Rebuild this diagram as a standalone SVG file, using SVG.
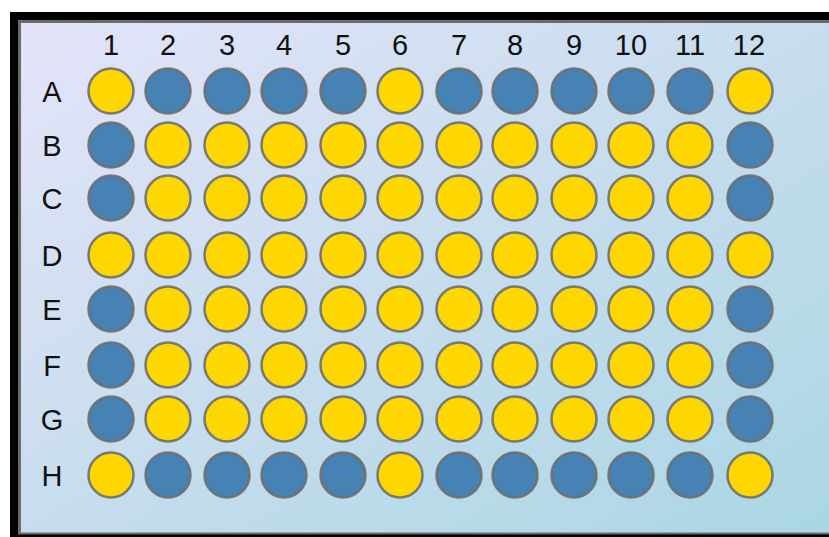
<svg xmlns="http://www.w3.org/2000/svg" width="829" height="537" viewBox="0 0 829 537">
<defs>
<linearGradient id="bg" x1="0" y1="0" x2="1" y2="1">
<stop offset="0" stop-color="#e4e4f8"/>
<stop offset="1" stop-color="#aad6e4"/>
</linearGradient>
<style>
.w{stroke:#6e6e6e;stroke-width:2.5;stroke-opacity:0.9}
.y{fill:#ffd700}
.b{fill:#4682b4}
.c{font-family:"Liberation Sans",Arial,sans-serif;font-size:29px;fill:#111;text-anchor:middle}
</style>
</defs>
<rect x="10" y="12" width="830" height="530" fill="#000"/>
<rect x="18" y="20" width="820" height="514.5" fill="#6b6b6b"/>
<rect x="21" y="23" width="810" height="509.5" fill="url(#bg)"/>
<g id="col-labels" class="c">
<text x="111" y="55">1</text>
<text x="168" y="55">2</text>
<text x="227" y="55">3</text>
<text x="284" y="55">4</text>
<text x="343" y="55">5</text>
<text x="400" y="55">6</text>
<text x="459" y="55">7</text>
<text x="515" y="55">8</text>
<text x="574" y="55">9</text>
<text x="631" y="55">10</text>
<text x="690" y="55">11</text>
<text x="749" y="55">12</text>
</g>
<g id="row-labels" class="c">
<text x="52" y="102">A</text>
<text x="52" y="156">B</text>
<text x="52" y="209">C</text>
<text x="52" y="266">D</text>
<text x="52" y="320">E</text>
<text x="52" y="376">F</text>
<text x="52" y="430">G</text>
<text x="52" y="486">H</text>
</g>
<g id="row-A" class="w">
<circle class="y" cx="111" cy="91" r="22.5"/><circle class="b" cx="168" cy="91" r="22.5"/><circle class="b" cx="227" cy="91" r="22.5"/><circle class="b" cx="284" cy="91" r="22.5"/><circle class="b" cx="343" cy="91" r="22.5"/><circle class="y" cx="400" cy="91" r="22.5"/><circle class="b" cx="459" cy="91" r="22.5"/><circle class="b" cx="515" cy="91" r="22.5"/><circle class="b" cx="574" cy="91" r="22.5"/><circle class="b" cx="631" cy="91" r="22.5"/><circle class="b" cx="690" cy="91" r="22.5"/><circle class="y" cx="750" cy="91" r="22.5"/>
</g>
<g id="row-B" class="w">
<circle class="b" cx="111" cy="145" r="22.5"/><circle class="y" cx="168" cy="145" r="22.5"/><circle class="y" cx="227" cy="145" r="22.5"/><circle class="y" cx="284" cy="145" r="22.5"/><circle class="y" cx="343" cy="145" r="22.5"/><circle class="y" cx="400" cy="145" r="22.5"/><circle class="y" cx="459" cy="145" r="22.5"/><circle class="y" cx="515" cy="145" r="22.5"/><circle class="y" cx="574" cy="145" r="22.5"/><circle class="y" cx="631" cy="145" r="22.5"/><circle class="y" cx="690" cy="145" r="22.5"/><circle class="b" cx="750" cy="145" r="22.5"/>
</g>
<g id="row-C" class="w">
<circle class="b" cx="111" cy="198" r="22.5"/><circle class="y" cx="168" cy="198" r="22.5"/><circle class="y" cx="227" cy="198" r="22.5"/><circle class="y" cx="284" cy="198" r="22.5"/><circle class="y" cx="343" cy="198" r="22.5"/><circle class="y" cx="400" cy="198" r="22.5"/><circle class="y" cx="459" cy="198" r="22.5"/><circle class="y" cx="515" cy="198" r="22.5"/><circle class="y" cx="574" cy="198" r="22.5"/><circle class="y" cx="631" cy="198" r="22.5"/><circle class="y" cx="690" cy="198" r="22.5"/><circle class="b" cx="750" cy="198" r="22.5"/>
</g>
<g id="row-D" class="w">
<circle class="y" cx="111" cy="255" r="22.5"/><circle class="y" cx="168" cy="255" r="22.5"/><circle class="y" cx="227" cy="255" r="22.5"/><circle class="y" cx="284" cy="255" r="22.5"/><circle class="y" cx="343" cy="255" r="22.5"/><circle class="y" cx="400" cy="255" r="22.5"/><circle class="y" cx="459" cy="255" r="22.5"/><circle class="y" cx="515" cy="255" r="22.5"/><circle class="y" cx="574" cy="255" r="22.5"/><circle class="y" cx="631" cy="255" r="22.5"/><circle class="y" cx="690" cy="255" r="22.5"/><circle class="y" cx="750" cy="255" r="22.5"/>
</g>
<g id="row-E" class="w">
<circle class="b" cx="111" cy="309" r="22.5"/><circle class="y" cx="168" cy="309" r="22.5"/><circle class="y" cx="227" cy="309" r="22.5"/><circle class="y" cx="284" cy="309" r="22.5"/><circle class="y" cx="343" cy="309" r="22.5"/><circle class="y" cx="400" cy="309" r="22.5"/><circle class="y" cx="459" cy="309" r="22.5"/><circle class="y" cx="515" cy="309" r="22.5"/><circle class="y" cx="574" cy="309" r="22.5"/><circle class="y" cx="631" cy="309" r="22.5"/><circle class="y" cx="690" cy="309" r="22.5"/><circle class="b" cx="750" cy="309" r="22.5"/>
</g>
<g id="row-F" class="w">
<circle class="b" cx="111" cy="365" r="22.5"/><circle class="y" cx="168" cy="365" r="22.5"/><circle class="y" cx="227" cy="365" r="22.5"/><circle class="y" cx="284" cy="365" r="22.5"/><circle class="y" cx="343" cy="365" r="22.5"/><circle class="y" cx="400" cy="365" r="22.5"/><circle class="y" cx="459" cy="365" r="22.5"/><circle class="y" cx="515" cy="365" r="22.5"/><circle class="y" cx="574" cy="365" r="22.5"/><circle class="y" cx="631" cy="365" r="22.5"/><circle class="y" cx="690" cy="365" r="22.5"/><circle class="b" cx="750" cy="365" r="22.5"/>
</g>
<g id="row-G" class="w">
<circle class="b" cx="111" cy="419" r="22.5"/><circle class="y" cx="168" cy="419" r="22.5"/><circle class="y" cx="227" cy="419" r="22.5"/><circle class="y" cx="284" cy="419" r="22.5"/><circle class="y" cx="343" cy="419" r="22.5"/><circle class="y" cx="400" cy="419" r="22.5"/><circle class="y" cx="459" cy="419" r="22.5"/><circle class="y" cx="515" cy="419" r="22.5"/><circle class="y" cx="574" cy="419" r="22.5"/><circle class="y" cx="631" cy="419" r="22.5"/><circle class="y" cx="690" cy="419" r="22.5"/><circle class="b" cx="750" cy="419" r="22.5"/>
</g>
<g id="row-H" class="w">
<circle class="y" cx="111" cy="475" r="22.5"/><circle class="b" cx="168" cy="475" r="22.5"/><circle class="b" cx="227" cy="475" r="22.5"/><circle class="b" cx="284" cy="475" r="22.5"/><circle class="b" cx="343" cy="475" r="22.5"/><circle class="y" cx="400" cy="475" r="22.5"/><circle class="b" cx="459" cy="475" r="22.5"/><circle class="b" cx="515" cy="475" r="22.5"/><circle class="b" cx="574" cy="475" r="22.5"/><circle class="b" cx="631" cy="475" r="22.5"/><circle class="b" cx="690" cy="475" r="22.5"/><circle class="y" cx="750" cy="475" r="22.5"/>
</g>
</svg>
